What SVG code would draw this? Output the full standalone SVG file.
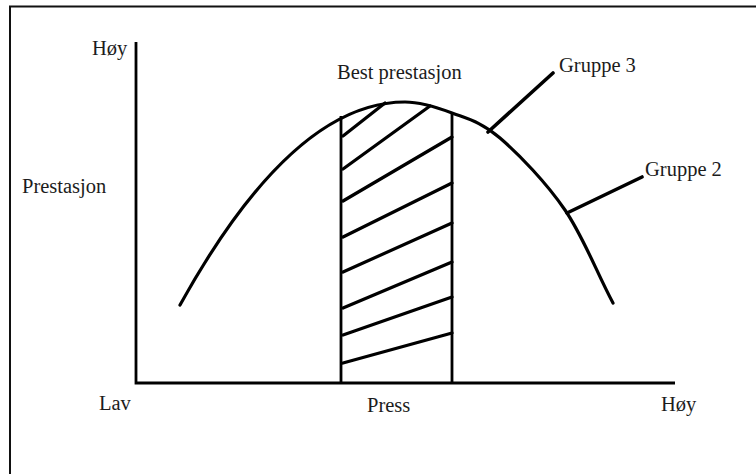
<svg xmlns="http://www.w3.org/2000/svg" width="756" height="474" viewBox="0 0 756 474">
<style>
.t{font-family:"Liberation Serif","Times New Roman",serif;font-size:20.5px;fill:#1c1c1c}
.ax{stroke:#000;stroke-width:2.8;fill:none}
.cv{stroke:#000;stroke-width:3.2;fill:none;stroke-linecap:round}
.h{stroke:#000;stroke-width:3.2;fill:none;stroke-linecap:round}
.ld{stroke:#000;stroke-width:3.6;fill:none;stroke-linecap:round}
</style>
<rect width="756" height="474" fill="#fff"/>
<g id="frame">
<path d="M9 6.5H756M10 6V474" stroke="#111" stroke-width="2" fill="none"/>
</g>
<g id="axes">
<path class="ax" d="M136 42V383H675"/>
</g>
<g id="curve">
<path class="cv" d="M180 305Q292.5 102 405 102C420.7 102 436.2 107 452 113C467.8 119 481.2 121.8 500 138C518.8 154.2 546.2 182.5 565 210C583.8 237.5 597 273.3 613 303"/>
</g>
<g id="zone">
<path class="ax" d="M341 116V383M452 114V383"/>
<path class="h" d="M343 136L385 103M343 169L430 106M343 201L452 137M343 237L452 183M343 272L452 223M343 308L452 262M343 335L452 297M343 363L452 333"/>
</g>
<g id="connectors">
<path class="ld" d="M488 132L553 73M567 213L642 177"/>
</g>
<g id="labels">
<text class="t" x="92" y="55">Høy</text>
<text class="t" x="22" y="193">Prestasjon</text>
<text class="t" x="337" y="79">Best prestasjon</text>
<text class="t" x="559" y="72">Gruppe 3</text>
<text class="t" x="645" y="176">Gruppe 2</text>
<text class="t" x="99" y="410">Lav</text>
<text class="t" x="367" y="412">Press</text>
<text class="t" x="661" y="411">Høy</text>
</g>
</svg>
